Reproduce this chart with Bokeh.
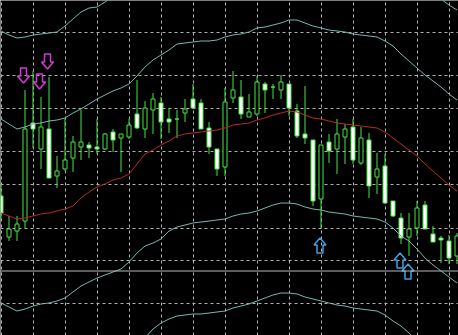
from bokeh.plotting import figure
from bokeh.models import Range1d, Grid, FixedTicker, Span, ColumnDataSource
from bokeh.embed import file_html
from bokeh.resources import INLINE

# ---------------- data (price in points) ----------------
bar_index = list(range(58))
open_ = [140, 99, 105, 115, 213, 187, 207, 160, 167, 178, 189, 191, 189, 187, 204, 198,
         199, 222, 207, 226, 233, 217, 217, 223, 237, 233, 208, 187, 169, 238, 239, 219,
         222, 252, 249, 246, 252, 225, 202, 196, 137, 194, 187, 199, 209, 173, 196, 159,
         170, 135, 118, 99, 108, 131, 102, 98, 95, 80]
high = [152, 120, 120, 246, 265, 239, 259, 180, 217, 200, 226, 194, 217, 203, 207, 202,
        217, 256, 235, 243, 239, 228, 226, 237, 252, 237, 214, 187, 248, 265, 256, 242,
        260, 254, 252, 261, 252, 232, 250, 196, 191, 202, 217, 212, 217, 209, 203, 183,
        182, 135, 123, 123, 135, 135, 110, 100, 101, 103]
low = [117, 95, 95, 108, 188, 167, 158, 148, 165, 164, 176, 178, 182, 186, 184, 164,
       197, 207, 198, 202, 197, 203, 198, 214, 227, 207, 182, 160, 160, 233, 217, 219,
       220, 223, 237, 237, 220, 198, 192, 130, 107, 173, 162, 172, 172, 171, 138, 142,
       132, 119, 92, 80, 100, 107, 94, 73, 72, 72]
close = [123, 107, 112, 207, 207, 209, 158, 165, 176, 194, 194, 188, 187, 202, 196, 202,
         211, 208, 228, 237, 214, 214, 217, 227, 228, 207, 189, 167, 234, 246, 222, 224,
         254, 246, 249, 254, 228, 200, 198, 135, 191, 185, 202, 207, 176, 198, 150, 167,
         133, 120, 98, 107, 128, 107, 94, 96, 78, 100]

bb_mid = [123, 120, 117, 118, 120, 122, 123, 125, 127, 130, 138, 144, 149, 152, 156, 158,
          162, 172, 182, 186, 191, 195, 200, 202, 203, 204, 205, 206, 208, 211, 212, 213,
          216, 218, 221, 223, 225, 224, 221, 218, 217, 215, 213, 212, 211, 210, 209, 208,
          204, 198, 192, 186, 180, 172, 165, 158, 151, 145]
bb_upper_inner = [217, 212, 207, 209, 212, 213, 215, 216, 218, 223, 227, 232, 237, 241, 245, 248,
                  252, 260, 269, 276, 281, 286, 292, 293, 294, 295, 295, 296, 299, 301, 302, 304,
                  308, 309, 311, 313, 316, 316, 313, 310, 308, 306, 305, 304, 302, 301, 300, 299,
                  295, 290, 282, 275, 268, 261, 255, 249, 242, 236]
bb_lower_inner = [33, 29, 25, 27, 30, 32, 33, 35, 38, 44, 50, 54, 58, 61, 64, 67,
                  74, 83, 90, 93, 97, 105, 109, 111, 113, 114, 115, 116, 117, 120, 122, 123,
                  125, 128, 131, 133, 133, 132, 129, 127, 126, 124, 123, 122, 120, 119, 118, 117,
                  114, 108, 100, 95, 87, 78, 71, 65, 59, 53]
bb_upper_outer = [305, 301, 298, 299, 301, 302, 303, 304, 310, 317, 324, 328, 329, 334, 339, 343,
                  350, 365, 380, 390, 397, 403, 410, 413, 415, 415, 415, 416, 420, 423, 425, 427,
                  431, 433, 437, 441, 445, 443, 437, 432, 428, 426, 425, 424, 422, 421, 420, 419,
                  415, 408, 398, 388, 378, 366, 349, 337, 331, 326]
bb_lower_outer = [-61, -63, -65, -63, -61, -59, -59, -57, -55, -49, -40, -33, -27, -23, -17, -15,
                  -10, -5, -2, 7, 13, 17, 20, 21, 22, 22, 23, 24, 25, 28, 30, 32,
                  35, 38, 41, 43, 43, 42, 39, 37, 35, 33, 31, 30, 28, 27, 26, 25,
                  21, 15, 10, 3, -5, -17, -25, -33, -43, -50]

sell_idx = [3, 5, 6]
sell_level = [253, 247, 267]
buy_idx = [40, 50, 51]
buy_level = [98, 83, 72]

horizontal_level = 65
grid_x_ticks = [0, 4, 8, 12, 16, 20, 24, 28, 32, 36, 40, 44, 48, 52, 56]
grid_y_ticks = [33, 76, 108, 152, 185, 228, 261, 304]

# ---------------- styles ----------------
GREEN = "#44e444"
BAND = "#74b8b0"
MID = "#b82828"
GRID = "#b0b0b0"
MAGENTA = "#d23cd2"
BLUE = "#40a0e0"
PX_X = 1 / 8.0  # data units per pixel horizontally

p = figure(width=458, height=335, output_backend="svg", toolbar_location=None,
           x_range=Range1d(-0.0625, 57.1875), y_range=Range1d(0.5, 335.5),
           x_axis_location=None, y_axis_location=None, min_border=0,
           background_fill_color="black", border_fill_color="black",
           outline_line_color=None)
p.grid.visible = False

p.add_layout(Grid(dimension=0, ticker=FixedTicker(ticks=grid_x_ticks),
                  grid_line_color=GRID, grid_line_dash="3 3", grid_line_width=1))
p.add_layout(Grid(dimension=1, ticker=FixedTicker(ticks=grid_y_ticks),
                  grid_line_color=GRID, grid_line_dash="3 3", grid_line_width=1))

tops = [max(o, c) for o, c in zip(open_, close)]
bots = [min(o, c) for o, c in zip(open_, close)]
fills = ["black" if c > o else "white" for o, c in zip(open_, close)]
src = ColumnDataSource(dict(x=bar_index, o=open_, h=high, l=low, c=close,
                            top=tops, bottom=bots, fill=fills))

p.segment(x0="x", y0="l", x1="x", y1="h", source=src, line_color=GREEN, line_width=1)
p.vbar(x="x", width=0.5, top="top", bottom="bottom", source=src,
       fill_color="fill", line_color=GREEN, line_width=1)

for band in (bb_upper_outer, bb_upper_inner, bb_lower_inner, bb_lower_outer):
    p.line(bar_index, band, line_color=BAND, line_width=1)
p.line(bar_index, bb_mid, line_color=MID, line_width=1)

p.add_layout(Span(location=horizontal_level, dimension="width",
                  line_color="#b8b8b8", line_width=1))

# hollow arrows (shape template in pixels, tip at the anchor)
DOWN_SHAPE = [(0, 0), (6, 7), (3, 7), (3, 15), (-3, 15), (-3, 7), (-6, 7)]
ARROW_DX = -1.5
sx, sy = [], []
for i, lv in zip(sell_idx, sell_level):
    sx.append([i + (dx + ARROW_DX) * PX_X for dx, dy in DOWN_SHAPE])
    sy.append([lv + dy for dx, dy in DOWN_SHAPE])
bx, by = [], []
for i, lv in zip(buy_idx, buy_level):
    bx.append([i + (dx - 1) * PX_X for dx, dy in DOWN_SHAPE])
    by.append([lv - dy for dx, dy in DOWN_SHAPE])
p.patches(sx, sy, fill_color=None, line_color=MAGENTA, line_width=1.5)
p.patches(bx, by, fill_color=None, line_color=BLUE, line_width=1.5)

open("out.html", "w").write(file_html(p, INLINE))
